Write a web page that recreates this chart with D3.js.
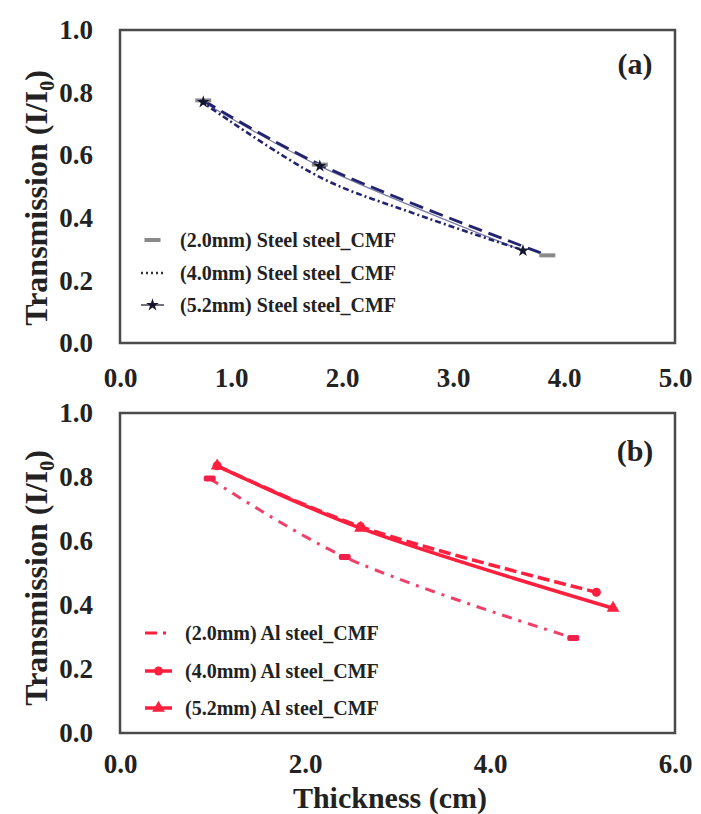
<!DOCTYPE html>
<html>
<head>
<meta charset="utf-8">
<script src="https://cdn.jsdelivr.net/npm/d3@7"></script>
<style>
  body { margin: 0; background: #fff; }
  svg { display: block; font-family: "Liberation Serif", "Times New Roman", serif; font-weight: bold; }
</style>
</head>
<body>
<svg id="chart" width="701" height="814"></svg>
<script>
// (a) steel plates, thickness (cm) vs I/I0
const steel20X = [0.75, 1.8, 3.85];
const steel20Y = [0.775, 0.57, 0.28];
const steel40X = [0.72, 1.8, 2.64, 3.6];
const steel40Y = [0.775, 0.53, 0.415, 0.3];
const steel52X = [0.75, 1.8, 3.63];
const steel52Y = [0.77, 0.565, 0.295];
const steelLabels = ["(2.0mm) Steel steel_CMF", "(4.0mm) Steel steel_CMF", "(5.2mm) Steel steel_CMF"];

// (b) Al plates
const al20X = [0.97, 2.43, 4.9];
const al20Y = [0.795, 0.55, 0.297];
const al40X = [1.05, 2.6, 5.15];
const al40Y = [0.835, 0.645, 0.44];
const al52X = [1.05, 2.6, 5.33];
const al52Y = [0.835, 0.64, 0.39];
const alLabels = ["(2.0mm) Al steel_CMF", "(4.0mm) Al steel_CMF", "(5.2mm) Al steel_CMF"];

const yTicks = [0, 0.2, 0.4, 0.6, 0.8, 1.0];
const xTicksA = [0, 1, 2, 3, 4, 5];
const xTicksB = [0, 2, 4, 6];

const svg = d3.select("#chart");
const left = 120, right = 675;
const navy = "#23236e";
const red = "#ff1f3f";

const zip = (xs, ys) => xs.map((t, i) => ({ t, v: ys[i] }));

function drawMarker(g, type, cx, cy) {
  if (type === "dash") {
    g.append("rect").attr("x", cx - 8).attr("y", cy - 2).attr("width", 16).attr("height", 4)
      .attr("fill", "#8a8a8a");
  } else if (type === "star") {
    g.append("path").attr("d", d3.symbol(d3.symbolStar, 50)())
      .attr("transform", `translate(${cx},${cy})`).attr("fill", "#15152e");
  } else if (type === "pdash") {
    g.append("rect").attr("x", cx - 6).attr("y", cy - 3).attr("width", 12).attr("height", 6)
      .attr("rx", 2).attr("fill", "#f0204a");
  } else if (type === "circle") {
    g.append("circle").attr("cx", cx).attr("cy", cy).attr("r", 4.5).attr("fill", red);
  } else if (type === "triangle") {
    g.append("path").attr("d", d3.symbol(d3.symbolTriangle, 70)())
      .attr("transform", `translate(${cx},${cy})`).attr("fill", red);
  }
}

function drawPanel(cfg) {
  const g = svg.append("g");
  const x = d3.scaleLinear().domain([0, cfg.xMax]).range([left, right]);
  const y = d3.scaleLinear().domain([0, 1]).range([cfg.bottom, cfg.top]);

  // frame
  g.append("rect")
    .attr("x", left).attr("y", cfg.top)
    .attr("width", right - left).attr("height", cfg.bottom - cfg.top)
    .attr("fill", "none").attr("stroke", "#4a4a4a").attr("stroke-width", 2.5);

  // axes
  const styleAxis = (ax) => {
    ax.select(".domain").remove();
    ax.attr("font-family", "Liberation Serif, serif").attr("font-size", 27)
      .attr("font-weight", "bold").attr("color", "#222");
  };
  g.append("g")
    .attr("transform", `translate(0,${cfg.bottom})`)
    .call(d3.axisBottom(x).tickValues(cfg.xTicks).tickFormat(d3.format(".1f"))
      .tickSize(0).tickPadding(cfg.xPad))
    .call(styleAxis);
  g.append("g")
    .attr("transform", `translate(${left},0)`)
    .call(d3.axisLeft(y).tickValues(yTicks).tickFormat(d3.format(".1f"))
      .tickSize(0).tickPadding(27))
    .call(styleAxis);

  // y title
  const yt = g.append("text")
    .attr("transform", `translate(36,${cfg.titleY}) rotate(-90)`)
    .attr("text-anchor", "middle").attr("dominant-baseline", "central")
    .attr("font-size", 32).attr("fill", "#222");
  yt.append("tspan").text("Transmission (I/I");
  yt.append("tspan").text("0").attr("font-size", 20).attr("baseline-shift", "sub");
  yt.append("tspan").text(")");

  // panel label
  g.append("text").attr("x", 635).attr("y", cfg.labelY)
    .attr("text-anchor", "middle").attr("dominant-baseline", "central")
    .attr("font-size", 30).attr("fill", "#222").text(cfg.label);

  const line = d3.line()
    .curve(d3.curveCatmullRom.alpha(0.5))
    .x((d) => x(d.t))
    .y((d) => y(d.v));

  cfg.series.forEach((s) => {
    g.append("path")
      .datum(s.points)
      .attr("fill", "none")
      .attr("stroke", s.color)
      .attr("stroke-width", s.width)
      .attr("stroke-dasharray", s.dash)
      .attr("opacity", s.opacity || 1)
      .attr("d", line);
    s.points.forEach((p) => drawMarker(g, s.marker, x(p.t), y(p.v)));
  });

  // legend
  cfg.series.forEach((s, i) => {
    const ly = cfg.legendY[i];
    const lg = g.append("g");
    lg.append("line")
      .attr("x1", cfg.legendX[0]).attr("x2", cfg.legendX[1])
      .attr("y1", ly).attr("y2", ly)
      .attr("stroke", s.legendColor || s.color)
      .attr("stroke-width", s.width)
      .attr("stroke-dasharray", s.legendDash === undefined ? s.dash : s.legendDash);
    if (s.legendMarker) drawMarker(lg, s.marker, (cfg.legendX[0] + cfg.legendX[1]) / 2, ly);
    lg.append("text")
      .attr("x", cfg.legendText).attr("y", ly)
      .attr("dominant-baseline", "central")
      .attr("font-size", 20).attr("fill", "#222")
      .text(s.label);
  });
}

drawPanel({
  top: 30, bottom: 343, xMax: 5, xTicks: xTicksA, xPad: 25,
  titleY: 198, label: "(a)", labelY: 63,
  legendY: [240, 273, 305], legendX: [141, 164], legendText: 180,
  series: [
    { points: zip(steel20X, steel20Y), color: navy, width: 2.8, dash: "14,7",
      marker: "dash", label: steelLabels[0], legendDash: "0,40", legendMarker: true },
    { points: zip(steel40X, steel40Y), color: navy, width: 2.6, dash: "6,3,2,3",
      marker: "none", label: steelLabels[1], legendColor: "#333", legendDash: "2,3" },
    { points: zip(steel52X, steel52Y), color: navy, width: 1.2, dash: null, opacity: 0.6,
      marker: "star", label: steelLabels[2], legendColor: "#15152e", legendMarker: true }
  ]
});

drawPanel({
  top: 413, bottom: 733, xMax: 6, xTicks: xTicksB, xPad: 21,
  titleY: 578, label: "(b)", labelY: 450,
  legendY: [633, 671, 708], legendX: [145, 172], legendText: 185,
  series: [
    { points: zip(al20X, al20Y), color: "#f0406a", width: 3, dash: "10,7,3,7",
      marker: "pdash", label: alLabels[0], legendColor: red, legendDash: "12,6,3,20" },
    { points: zip(al40X, al40Y), color: red, width: 3.5, dash: "12,5",
      marker: "circle", label: alLabels[1], legendDash: null, legendMarker: true },
    { points: zip(al52X, al52Y), color: red, width: 3.5, dash: null,
      marker: "triangle", label: alLabels[2], legendMarker: true }
  ]
});

// shared x title
svg.append("text")
  .attr("x", 390).attr("y", 808)
  .attr("text-anchor", "middle")
  .attr("font-size", 30).attr("fill", "#222")
  .text("Thickness (cm)");
</script>
</body>
</html>
